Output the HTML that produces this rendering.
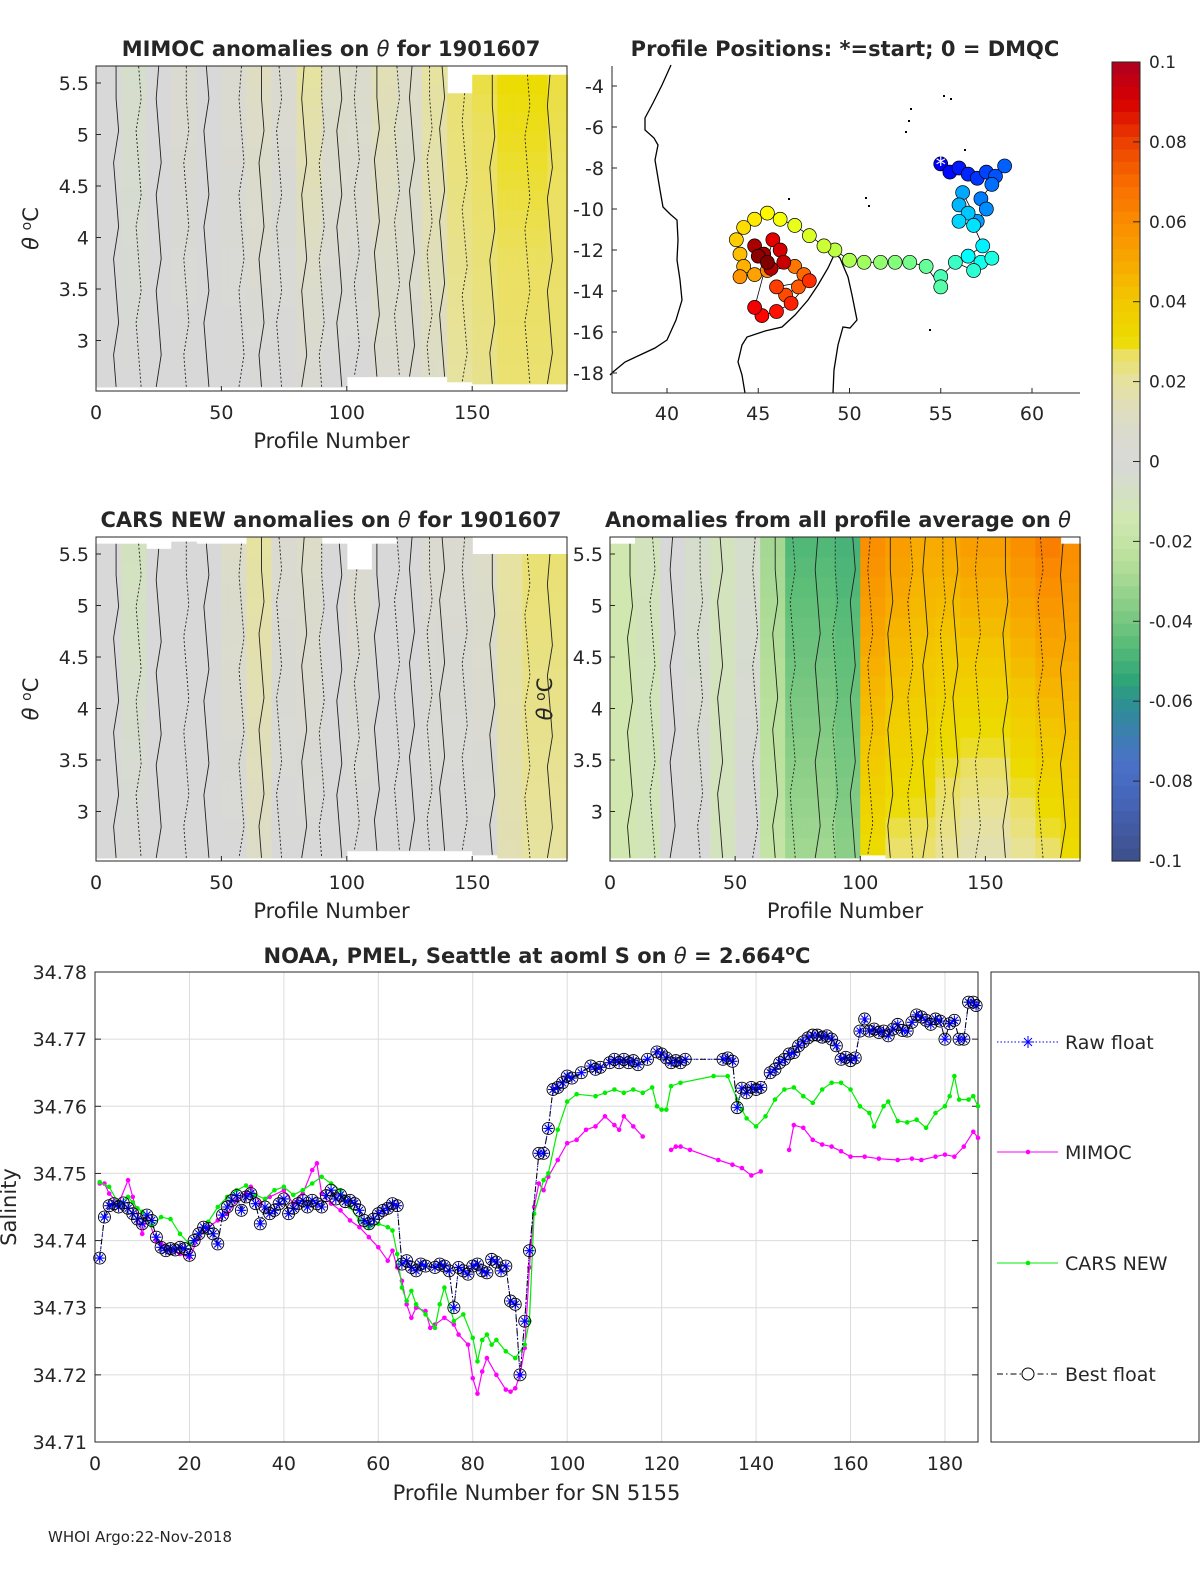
<!DOCTYPE html>
<html><head><meta charset="utf-8">
<style>
html,body{margin:0;padding:0;background:#fff;overflow:hidden;width:1200px;height:1575px;}
svg{display:block;}
svg text{font-family:"DejaVu Sans","Liberation Sans",sans-serif;fill:#262626;}
</style></head>
<body>
<svg id="fig" width="1200" height="1575" viewBox="0 0 1200 1575" xmlns="http://www.w3.org/2000/svg">
<g id="gA"></g>
<g id="gB"></g>
<g id="gC"></g>
<g id="gD"></g>
<g id="gCB"></g>
<g id="gS"></g>
<text x="48" y="1542" font-size="15">WHOI Argo:22-Nov-2018</text>
</svg>
<script>
// ---------- data ----------
const binStarts = [0,10,20,30,40,50,60,70,80,90,100,110,120,130,140,150,160,170,180];
const mimocTop = [0,-0.005,0,0.005,0,0.005,0.012,0.005,0.02,0.01,0.008,0.015,0.01,0.02,0.025,0.028,0.03,0.03,0.028];
const mimocBot = [0,0,0,0,0,0,0,0,0.003,0,0,0.005,0.005,0.01,0.02,0.022,0.025,0.025,0.025];
const mimocHi = [5.66,5.66,5.66,5.66,5.66,5.66,5.66,5.66,5.66,5.66,5.66,5.66,5.66,5.66,5.4,5.58,5.58,5.58,5.58];
const mimocLo = [2.55,2.55,2.55,2.55,2.55,2.55,2.55,2.55,2.55,2.55,2.65,2.65,2.65,2.65,2.6,2.58,2.58,2.58,2.58];
const carsTop = [0,-0.01,0,0,0,0.01,0.02,0.005,0.01,0,0.005,0,0,0.005,0.005,0.01,0.02,0.025,0.025];
const carsBot = [0,0,0,0,0,0,0.01,0,0,0,0,0,0,0,0,0,0.015,0.02,0.02];
const carsHi = [5.6,5.6,5.55,5.62,5.6,5.6,5.66,5.66,5.66,5.6,5.35,5.6,5.66,5.66,5.66,5.5,5.5,5.5,5.5];
const carsLo = [2.55,2.55,2.55,2.55,2.55,2.55,2.55,2.55,2.55,2.55,2.62,2.62,2.62,2.62,2.62,2.58,2.55,2.55,2.55];
const avgTop = [-0.015,-0.01,0,-0.005,-0.01,-0.005,-0.03,-0.048,-0.048,-0.05,0.06,0.055,0.05,0.05,0.055,0.055,0.06,0.065,0.06];
const avgBot = [-0.015,-0.012,0,0,-0.01,0,-0.02,-0.03,-0.03,-0.035,0.03,0.025,0.025,0.02,0.015,0.015,0.02,0.025,0.03];
const avgHi = [5.6,5.66,5.66,5.66,5.66,5.66,5.66,5.66,5.66,5.66,5.66,5.66,5.66,5.66,5.66,5.66,5.66,5.66,5.6];
const avgLo = [2.55,2.55,2.55,2.55,2.55,2.55,2.55,2.55,2.55,2.55,2.58,2.55,2.55,2.55,2.55,2.55,2.55,2.55,2.55];
const contourProfiles = [8,17,25,36,44,58,66,73,83,90,97,104,112,120,126,133,138,147,158,172,181];

const mapLon = [55,55.5,56,56.5,57,57.5,58,58.5,57.8,57.2,57.5,57,56.2,56,56.5,56,56.8,57.3,56.5,57.2,57.8,56.8,55.8,55,55,54.2,53.3,52.5,51.7,50.8,50,49.2,48.6,47.8,47,46.2,45.5,44.8,44.2,43.8,44,44.2,44.8,44,45.5,47,47.5,47.2,46.5,46,47.8,46.8,46,45.2,44.8,45.8,46.2,46.4,45.7,44.8,45.3,45,45.5];
const mapLat = [-7.8,-8.2,-8,-8.3,-8.5,-8.2,-8.4,-7.9,-8.8,-9.5,-10,-10.6,-9.2,-9.8,-10.2,-10.6,-10.8,-11.8,-12.3,-12.6,-12.4,-13,-12.6,-13.3,-13.8,-12.8,-12.6,-12.6,-12.6,-12.6,-12.5,-12,-11.8,-11.3,-10.8,-10.5,-10.2,-10.5,-10.9,-11.5,-12.2,-12.8,-13.2,-13.3,-13,-12.8,-13.2,-13.8,-14.2,-13.8,-13.5,-14.6,-15,-15.2,-14.8,-11.5,-12,-12.6,-12.9,-11.8,-12.2,-12.3,-12.6];

const bestX = [1,2,3,4,5,6,7,8,9,10,11,12,13,14,15,16,17,18,19,20,21,22,23,24,25,26,27,28,29,30,31,32,33,34,35,36,37,38,39,40,41,42,43,44,45,46,47,48,49,50,51,52,53,54,55,56,57,58,59,60,61,62,63,64,65,66,67,68,69,70,72,73,74,75,76,77,78,79,80,81,82,83,84,85,86,87,88,89,90,91,92,94,95,96,97,98,99,100,101,103,105,106,107,109,110,111,112,113,114,115,117,119,120,121,122,123,124,125,133,134,135,136,137,138,139,140,141,143,144,145,146,147,148,149,150,151,152,153,154,155,156,157,158,159,160,161,162,163,164,165,166,167,168,169,170,171,172,173,174,175,176,177,178,179,180,181,182,183,184,185,186,186.6];
const bestS = [34.7374,34.7435,34.7452,34.7455,34.7450,34.7456,34.7448,34.7440,34.7432,34.7425,34.7438,34.7430,34.7405,34.7390,34.7385,34.7388,34.7386,34.7390,34.7388,34.7378,34.7400,34.7410,34.7420,34.7418,34.7410,34.7395,34.7438,34.7450,34.7460,34.7467,34.7445,34.7465,34.7470,34.7455,34.7425,34.7450,34.7440,34.7445,34.7455,34.7462,34.7440,34.7448,34.7455,34.7460,34.7450,34.7460,34.7455,34.7450,34.7467,34.7475,34.7462,34.7468,34.7458,34.7460,34.7455,34.7445,34.7430,34.7425,34.7432,34.7440,34.7445,34.7448,34.7455,34.7452,34.7365,34.7370,34.7360,34.7355,34.7365,34.7362,34.7360,34.7365,34.7362,34.7355,34.7300,34.7360,34.7355,34.7350,34.7362,34.7365,34.7355,34.7352,34.7372,34.7368,34.7355,34.7362,34.7310,34.7305,34.7200,34.7280,34.7385,34.7530,34.7530,34.7567,34.7625,34.7628,34.7635,34.7645,34.7642,34.7650,34.7660,34.7655,34.7658,34.7665,34.7670,34.7665,34.7670,34.7665,34.7668,34.7662,34.7670,34.7681,34.7678,34.7672,34.7665,34.7668,34.7665,34.7670,34.7670,34.7672,34.7667,34.7598,34.7627,34.7620,34.7628,34.7625,34.7628,34.7650,34.7655,34.7665,34.7670,34.7678,34.7680,34.7690,34.7696,34.7702,34.7706,34.7706,34.7703,34.7705,34.7700,34.7690,34.7670,34.7673,34.7668,34.7672,34.7712,34.7730,34.7712,34.7715,34.7710,34.7712,34.7705,34.7715,34.7722,34.7713,34.7712,34.7725,34.7736,34.7733,34.7728,34.7722,34.7730,34.7727,34.7700,34.7723,34.7728,34.7700,34.7700,34.7755,34.7755,34.7750];
const rawX = bestX.slice();
const rawS = bestS.slice();

const mimocX = [1,2,3,5,7,8,10,11,13,14,16,18,20,22,24,26,28,30,32,33,35,37,40,42,44,46,47,48,50,52,54,56,58,60,62,63,64,65,66,67,68,70,71,72,74,76,77,79,80,81,82,83,85,87,88,89,90,91,92,93,94,95,96,98,100,102,104,106,108,110,111,112,114,116,null,122,123,124,126,132,135,137,139,141,null,147,148,150,152,154,156,158,160,163,166,170,173,175,178,180,182,184,186,187];
const mimocS = [34.7485,34.7485,34.747,34.7455,34.749,34.7465,34.741,34.7435,34.740,34.7395,34.7385,34.738,34.7375,34.7405,34.742,34.743,34.744,34.746,34.747,34.748,34.7455,34.7465,34.7475,34.7455,34.747,34.7505,34.7515,34.747,34.7455,34.7445,34.743,34.742,34.7405,34.739,34.737,34.7385,34.736,34.734,34.7305,34.7285,34.730,34.7295,34.727,34.7275,34.7285,34.7275,34.726,34.7245,34.7195,34.7172,34.7205,34.7225,34.720,34.7178,34.7175,34.718,34.720,34.724,34.736,34.745,34.7485,34.7475,34.7495,34.752,34.7545,34.755,34.7565,34.757,34.7585,34.7572,34.7565,34.7585,34.757,34.7555,null,34.7535,34.754,34.754,34.7535,34.752,34.7513,34.7508,34.7497,34.7503,null,34.7535,34.7572,34.7568,34.755,34.7543,34.754,34.7533,34.7525,34.7525,34.7522,34.752,34.7522,34.752,34.7525,34.7528,34.7525,34.754,34.7562,34.7553];
const carsX = [1,3,5,7,8,9,10,12,14,16,18,20,22,24,26,28,30,32,34,36,38,40,42,44,46,48,50,52,54,56,58,60,62,63,64,65,66,67,68,70,72,73,74,76,78,80,81,82,83,84,85,87,89,91,92,93,95,96,98,100,102,106,108,110,112,114,116,118,119,120,121,122,124,131,134,136,137,138,140,142,144,146,148,150,152,154,156,158,160,162,164,165,167,168,170,172,174,176,178,180,181,182,183,185,186,187];
const carsS = [34.7487,34.748,34.7455,34.7465,34.7457,34.7448,34.7443,34.7422,34.7435,34.7432,34.741,34.7395,34.7408,34.7428,34.745,34.7465,34.7475,34.7482,34.7468,34.7462,34.7475,34.748,34.7468,34.7475,34.7485,34.7495,34.7485,34.7475,34.745,34.743,34.742,34.7425,34.742,34.7415,34.738,34.733,34.731,34.7325,34.7305,34.729,34.727,34.7305,34.733,34.728,34.729,34.7255,34.722,34.7252,34.726,34.7245,34.7252,34.7235,34.7225,34.7245,34.728,34.744,34.749,34.750,34.7565,34.7607,34.7618,34.7615,34.762,34.7625,34.762,34.7625,34.762,34.7628,34.760,34.7595,34.7595,34.763,34.7635,34.7645,34.7645,34.761,34.7595,34.7582,34.757,34.7585,34.761,34.7625,34.7628,34.7615,34.7605,34.7625,34.7635,34.7635,34.7625,34.760,34.759,34.757,34.760,34.7607,34.7578,34.7576,34.758,34.7568,34.759,34.760,34.7615,34.7645,34.761,34.761,34.7615,34.760];

const sXTicks = [0,20,40,60,80,100,120,140,160,180];
const sYTicks = [34.71,34.72,34.73,34.74,34.75,34.76,34.77,34.78];
const cbTicks = [0.1,0.08,0.06,0.04,0.02,0,-0.02,-0.04,-0.06,-0.08,-0.1];

// ---------- helpers ----------
const NS = "http://www.w3.org/2000/svg";
function mk(parent, tag, attrs, txt){ const e=document.createElementNS(NS,tag); for(const k in attrs) e.setAttribute(k,attrs[k]); if(txt!==undefined) e.textContent=txt; parent.appendChild(e); return e; }
const cstops = [[-0.1,[61,79,138]],[-0.085,[69,101,184]],[-0.075,[74,114,200]],[-0.062,[47,140,152]],[-0.055,[46,164,120]],[-0.045,[94,190,120]],[-0.035,[141,207,136]],[-0.025,[184,224,156]],[-0.015,[208,232,176]],[0,[216,216,216]],[0.01,[220,220,200]],[0.02,[230,226,160]],[0.027,[235,224,96]],[0.03,[236,220,0]],[0.04,[242,200,0]],[0.05,[248,168,0]],[0.06,[250,140,0]],[0.07,[248,106,0]],[0.08,[236,64,0]],[0.09,[216,0,0]],[0.1,[174,0,32]]];
function cmap(v){ v=Math.max(-0.1,Math.min(0.1,v)); for(let i=0;i<cstops.length-1;i++){ const a=cstops[i],b=cstops[i+1]; if(v<=b[0]){ const t=(v-a[0])/(b[0]-a[0]); const c=a[1].map((x,j)=>Math.round(x+(b[1][j]-x)*t)); return `rgb(${c[0]},${c[1]},${c[2]})`; } } return "rgb(174,0,32)"; }
function jet(t){ const r=Math.max(0,Math.min(1,1.5-Math.abs(4*t-3))), g=Math.max(0,Math.min(1,1.5-Math.abs(4*t-2))), b=Math.max(0,Math.min(1,1.5-Math.abs(4*t-1))); return `rgb(${Math.round(r*255)},${Math.round(g*255)},${Math.round(b*255)})`; }

// ---------- heat panels ----------
function heatPanel(g, box, top, bot, hi, lo, titleHTML, showYLabel, titleX){
  const px = p => box.x0 + (p)*(box.x1-box.x0)/187.8;
  const py = th => box.yRef5 + (5.5-th)*box.k;
  for(let p=0;p<188;p++){
    const b=Math.min(18,Math.floor(p/10));
    const yH=py(hi[b]), yL=py(lo[b]);
    const rows=16;
    for(let r=0;r<rows;r++){
      const f=(r+0.5)/rows;
      const v=top[b]+(bot[b]-top[b])*f;
      const cell=mk(g,"rect",{x:px(p).toFixed(2),y:(yH+(yL-yH)*r/rows).toFixed(2),width:(px(1)-px(0)+0.6).toFixed(2),height:((yL-yH)/rows+0.6).toFixed(2),fill:cmap(v)});
      
      
    }
  }
  contourProfiles.forEach((p,i)=>{
    const b=Math.min(18,Math.floor(p/10));
    let d=`M${px(p)},${py(hi[b])}`;
    for(let s=1;s<=10;s++){ d+=` L${(px(p)+((s+i)%3-1)*2.5).toFixed(1)},${(py(hi[b])+(py(lo[b])-py(hi[b]))*s/10).toFixed(1)}`; }
    const c=mk(g,"path",{d:d,fill:"none",stroke:"#222","stroke-width":0.9,"stroke-dasharray":i%2?"2 2":"none"});
    
    
  });
  mk(g,"rect",{x:box.x0,y:box.y0,width:box.x1-box.x0,height:box.y1-box.y0,fill:"none",stroke:"#262626","stroke-width":1});
  [0,50,100,150].forEach(t=>{ mk(g,"line",{x1:px(t),x2:px(t),y1:box.y1,y2:box.y1-5,stroke:"#262626"}); mk(g,"text",{x:px(t),y:box.y1+28,"font-size":19,"text-anchor":"middle"},t); });
  [3,3.5,4,4.5,5,5.5].forEach(t=>{ mk(g,"line",{x1:box.x0,x2:box.x0+5,y1:py(t),y2:py(t),stroke:"#262626"}); mk(g,"text",{x:box.x0-7,y:py(t)+7,"font-size":19,"text-anchor":"end"},String(t)); });
  mk(g,"text",{x:(box.x0+box.x1)/2,y:box.y1+57,"font-size":21,"text-anchor":"middle"},"Profile Number");
  const tt=mk(g,"text",{x:titleX,y:box.y0-10,"font-size":21,"font-weight":"bold","text-anchor":"middle"}); tt.innerHTML=titleHTML;
  if(showYLabel){ const t=mk(g,"text",{x:0,y:0,"font-size":21,"text-anchor":"middle",transform:`translate(${box.x0-58},${(box.y0+box.y1)/2}) rotate(-90)`}); t.innerHTML='<tspan font-style="italic">θ</tspan> <tspan dy="-7" font-size="14">o</tspan><tspan dy="7">C</tspan>'; }
}
const TH='<tspan font-style="italic" font-weight="normal">θ</tspan>';
heatPanel(document.getElementById('gA'),{x0:96,x1:567,y0:66,y1:391,yRef5:83,k:103},mimocTop,mimocBot,mimocHi,mimocLo,"MIMOC anomalies on "+TH+"  for 1901607",true,331);
heatPanel(document.getElementById('gC'),{x0:96,x1:567,y0:537,y1:861,yRef5:554,k:103},carsTop,carsBot,carsHi,carsLo,"CARS NEW anomalies on "+TH+" for 1901607",true,331);
heatPanel(document.getElementById('gD'),{x0:610,x1:1080,y0:537,y1:861,yRef5:554,k:103},avgTop,avgBot,avgHi,avgLo,"Anomalies from all profile average on "+TH,true,838);

// ---------- map ----------
(function(){
  const g=document.getElementById('gB');
  const lx = lon => 667 + (lon-40)*18.25;
  const ly = lat => 86 + (-4-lat)*20.5;
  mk(g,"polyline",{points:"671,65 662,85 653,103 645,118 645,130 654,138 658,145 655,160 660,190 663,207 670,214 677,220 678,240 677,260 680,280 682,300 676,320 667,340 655,348 640,355 625,362 613,372 610,375",fill:"none",stroke:"#000","stroke-width":1.3,});
  mk(g,"polyline",{points:"745,393 742,375 738,362 742,345 747,337 765,331 782,327 795,315 808,300 818,285 828,268 835,253 840,258 845,270 848,277 852,295 857,320 850,328 843,327 838,345 834,370 833,393",fill:"none",stroke:"#000","stroke-width":1.3,});
  [[943,95],[950,98],[910,108],[908,120],[905,131],[964,149],[865,197],[868,205],[929,329],[788,198]].forEach(p=>{ const d=mk(g,"rect",{x:p[0],y:p[1],width:2,height:2,fill:"#000"});   });
  let pts=mapLon.map((lo,i)=>lx(lo)+","+ly(mapLat[i])).join(" ");
  mk(g,"polyline",{points:pts,fill:"none",stroke:"#000","stroke-width":0.8,});
  mapLon.forEach((lo,i)=>{ const c=mk(g,"circle",{cx:lx(lo),cy:ly(mapLat[i]),r:7,fill:jet(0.12+0.88*i/(mapLon.length-1)),stroke:"#000","stroke-width":0.7});   });
  mk(g,"text",{x:lx(mapLon[0]),y:ly(mapLat[0])+8,"font-size":20,fill:"#fff","text-anchor":"middle",style:"fill:#fff",},"*");
  mk(g,"line",{x1:612,x2:1080,y1:393,y2:393,stroke:"#262626"});
  mk(g,"line",{x1:612,x2:612,y1:66,y2:393,stroke:"#262626"});
  [40,45,50,55,60].forEach(t=>{ mk(g,"line",{x1:lx(t),x2:lx(t),y1:393,y2:388,stroke:"#262626"}); mk(g,"text",{x:lx(t),y:420,"font-size":19,"text-anchor":"middle"},t); });
  [-4,-6,-8,-10,-12,-14,-16,-18].forEach(t=>{ mk(g,"line",{x1:612,x2:617,y1:ly(t),y2:ly(t),stroke:"#262626"}); mk(g,"text",{x:604,y:ly(t)+7,"font-size":19,"text-anchor":"end"},String(t)); });
  mk(g,"text",{x:845,y:56,"font-size":21,"font-weight":"bold","text-anchor":"middle"},"Profile Positions: *=start; 0 = DMQC");
})();

// ---------- colorbar ----------
(function(){
  const g=document.getElementById('gCB');
  const y = v => 62 + (0.1-v)*(861-62)/0.2;
  for(let i=0;i<64;i++){ const v=0.1-(i+0.5)*0.2/64; const r=mk(g,"rect",{x:1112,y:(62+i*799/64).toFixed(2),width:28,height:(799/64+0.6).toFixed(2),fill:cmap(v)});   }
  mk(g,"rect",{x:1112,y:62,width:28,height:799,fill:"none",stroke:"#262626"});
  cbTicks.forEach(t=>{ mk(g,"line",{x1:1133,x2:1140,y1:y(t),y2:y(t),stroke:"#262626"}); mk(g,"text",{x:1149,y:y(t)+6,"font-size":17},String(t)); });
})();

// ---------- salinity chart ----------
(function(){
  const g=document.getElementById('gS');
  const X0=95,X1=978,Y0=972,Y1=1442;
  const xs = p => X0 + p*(X1-X0)/187;
  const ys = s => Y1 - (s-34.71)*(Y1-Y0)/0.07;
  sXTicks.forEach(t=>{ mk(g,"line",{x1:xs(t),x2:xs(t),y1:Y0,y2:Y1,stroke:"#dcdcdc"}); mk(g,"text",{x:xs(t),y:Y1+28,"font-size":19,"text-anchor":"middle"},t); });
  sYTicks.forEach(t=>{ mk(g,"line",{x1:X0,x2:X1,y1:ys(t),y2:ys(t),stroke:"#dcdcdc"}); mk(g,"text",{x:X0-8,y:ys(t)+7,"font-size":19,"text-anchor":"end"},t.toFixed(2)); mk(g,"line",{x1:X0,x2:X0+6,y1:ys(t),y2:ys(t),stroke:"#262626"}); mk(g,"line",{x1:X1,x2:X1-6,y1:ys(t),y2:ys(t),stroke:"#262626"}); });
  mk(g,"rect",{x:X0,y:Y0,width:X1-X0,height:Y1-Y0,fill:"none",stroke:"#262626"});
  function lineOf(xa,ya){ let d="",pen=false; xa.forEach((x,i)=>{ if(x===null||ya[i]===null){pen=false;return;} d+=(pen?" L":" M")+xs(x).toFixed(1)+","+ys(ya[i]).toFixed(1); pen=true; }); return d; }
  mk(g,"path",{d:lineOf(mimocX,mimocS),fill:"none",stroke:"#ff00ff","stroke-width":1.2,});
  mimocX.forEach((x,i)=>{ if(x===null) return; const c=mk(g,"circle",{cx:xs(x),cy:ys(mimocS[i]),r:2.3,fill:"#ff00ff"});   });
  mk(g,"path",{d:lineOf(carsX,carsS),fill:"none",stroke:"#00ee00","stroke-width":1.2,});
  carsX.forEach((x,i)=>{ const c=mk(g,"circle",{cx:xs(x),cy:ys(carsS[i]),r:2.3,fill:"#00ee00"});   });
  mk(g,"path",{d:lineOf(rawX,rawS),fill:"none",stroke:"#0000ff","stroke-width":1,"stroke-dasharray":"1.5 2",});
  mk(g,"path",{d:lineOf(bestX,bestS),fill:"none",stroke:"#000","stroke-width":1,"stroke-dasharray":"6 3 1.5 3",});
  rawX.forEach((x,i)=>{ const cx=xs(x),cy=ys(rawS[i]); const s=mk(g,"path",{d:`M${cx-5},${cy}H${cx+5}M${cx},${cy-5}V${cy+5}M${cx-3.5},${cy-3.5}L${cx+3.5},${cy+3.5}M${cx-3.5},${cy+3.5}L${cx+3.5},${cy-3.5}`,stroke:"#0000ff","stroke-width":1.1,fill:"none"});   });
  bestX.forEach((x,i)=>{ const c=mk(g,"circle",{cx:xs(x),cy:ys(bestS[i]),r:6,fill:"none",stroke:"#000","stroke-width":0.9});   });
  const yl=mk(g,"text",{x:0,y:0,"font-size":21,"text-anchor":"middle",transform:`translate(16,${(Y0+Y1)/2}) rotate(-90)`},"Salinity");  
  mk(g,"text",{x:(X0+X1)/2,y:1500,"font-size":21,"text-anchor":"middle",},"Profile Number for SN 5155");
  const tt=mk(g,"text",{x:537,y:963,"font-size":21,"font-weight":"bold","text-anchor":"middle",});
  tt.innerHTML='NOAA, PMEL, Seattle at aoml S on <tspan font-style="italic" font-weight="normal">θ</tspan> = 2.664<tspan dy="-8" font-size="14">o</tspan><tspan dy="8">C</tspan>';
  const lg=mk(g,"g",{});
  mk(lg,"rect",{x:991,y:972,width:208,height:470,fill:"#fff",stroke:"#262626"});
  const L=[["Raw float",1042,"raw"],["MIMOC",1152,"mimoc"],["CARS NEW",1263,"cars"],["Best float",1374,"best"]];
  L.forEach(e=>{ const y=e[1]; const en=mk(lg,"g",{});  
    if(e[2]==="raw"){ mk(en,"line",{x1:997,x2:1058,y1:y,y2:y,stroke:"#0000ff","stroke-dasharray":"1.5 2"}); mk(en,"path",{d:`M1022,${y}H1034M1028,${y-6}V${y+6}M1024,${y-4}L1032,${y+4}M1024,${y+4}L1032,${y-4}`,stroke:"#0000ff",fill:"none"}); }
    if(e[2]==="mimoc"){ mk(en,"line",{x1:997,x2:1058,y1:y,y2:y,stroke:"#ff00ff"}); mk(en,"circle",{cx:1028,cy:y,r:2.3,fill:"#ff00ff"}); }
    if(e[2]==="cars"){ mk(en,"line",{x1:997,x2:1058,y1:y,y2:y,stroke:"#00ee00"}); mk(en,"circle",{cx:1028,cy:y,r:2.3,fill:"#00ee00"}); }
    if(e[2]==="best"){ mk(en,"line",{x1:997,x2:1058,y1:y,y2:y,stroke:"#000","stroke-dasharray":"6 3 1.5 3"}); mk(en,"circle",{cx:1028,cy:y,r:6,fill:"#fff",stroke:"#000"}); }
    mk(en,"text",{x:1065,y:y+7,"font-size":19},e[0]);
  });
})();
</script>
</body></html>
